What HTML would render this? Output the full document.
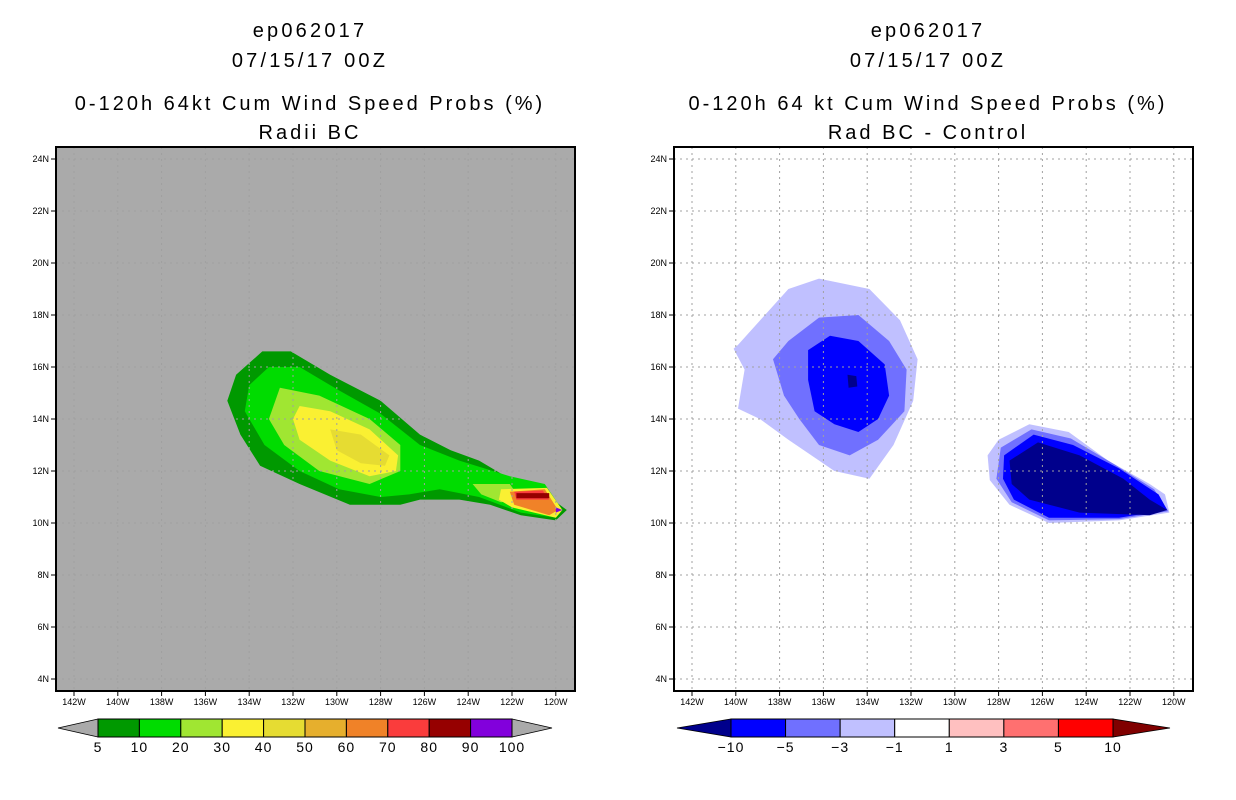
<!DOCTYPE html>
<html><head><meta charset="utf-8"><style>
body{margin:0;background:#fff;}
svg{display:block;font-family:"Liberation Sans",sans-serif;}
</style></head><body>
<svg id="c" width="1236" height="800"></svg>
<script>
const NS='http://www.w3.org/2000/svg';
const svg=document.getElementById('c');
const latTicks=[24,22,20,18,16,14,12,10,8,6,4];
const lonTicks=[142,140,138,136,134,132,130,128,126,124,122,120];
// left panel contours (lon W, lat N)
const lc5=[[133.4,16.6],[132.1,16.6],[130.3,15.7],[128.0,14.7],[126.2,13.4],[124.8,12.8],[123.5,12.4],[122.1,11.7],[120.3,11.0],[119.5,10.5],[120.0,10.1],[121.6,10.3],[123.0,10.7],[124.4,10.9],[126.2,10.9],[127.1,10.7],[129.4,10.7],[131.7,11.5],[133.5,12.2],[134.4,13.4],[135.0,14.7],[134.6,15.7]];
const lc10=[[133.1,16.0],[131.7,16.0],[129.9,15.1],[128.0,14.2],[126.2,13.0],[124.4,12.4],[122.1,11.8],[120.5,11.5],[119.7,10.5],[120.0,10.2],[121.6,10.4],[123.5,11.0],[125.3,11.3],[126.7,11.1],[128.0,11.0],[129.9,11.3],[131.7,12.0],[133.3,13.0],[134.2,14.3],[134.0,15.3]];
const lc20=[[132.6,15.2],[130.8,14.9],[128.5,14.0],[127.1,13.0],[127.1,12.0],[128.5,11.5],[130.8,12.0],[132.4,13.0],[133.1,14.0]];
const lc20b=[[123.8,11.5],[122.1,11.5],[121.6,10.9],[122.5,10.8],[123.4,11.1]];
const lc30=[[131.7,14.5],[130.3,14.3],[128.5,13.6],[127.2,12.6],[127.3,12.0],[128.5,11.8],[130.3,12.4],[131.7,13.2],[132.0,14.0]];
const lc40=[[130.3,13.6],[128.9,13.4],[127.6,12.6],[127.8,12.2],[128.9,12.3],[130.0,12.8]];
const lcTipY=[[122.5,11.3],[120.4,11.35],[119.7,10.5],[120.0,10.2],[122.0,10.6],[122.6,10.9]];
const lcTipO=[[122.1,11.2],[120.5,11.3],[119.9,10.5],[120.3,10.3],[121.9,10.7]];
const lcTipR=[[121.9,11.2],[120.6,11.25],[120.3,10.9],[121.8,10.9]];
const lcTipD=[[121.8,11.15],[120.3,11.15],[120.3,10.95],[121.8,10.95]];
const lcTipP=[[120.0,10.6],[119.7,10.5],[120.0,10.4]];
// right panel contours
const r1a=[[139.9,16.85],[137.6,19.0],[136.2,19.4],[133.9,19.0],[132.5,17.8],[131.7,16.3],[131.9,14.7],[132.8,13.0],[133.9,11.7],[135.5,12.0],[137.6,13.2],[138.9,14.0],[139.9,14.4],[139.6,15.9],[140.1,16.7]];
const r3a=[[137.6,17.0],[136.2,17.9],[134.4,18.0],[133.0,17.0],[132.2,15.9],[132.3,14.3],[133.5,13.2],[134.8,12.6],[136.2,13.0],[137.1,14.0],[137.8,14.9],[138.3,16.3]];
const r5a=[[136.7,16.65],[135.7,17.2],[134.4,17.0],[133.2,16.1],[133.0,14.9],[133.5,14.0],[134.4,13.5],[135.5,13.8],[136.4,14.3],[136.7,15.5]];
const r10a=[[134.9,15.7],[134.5,15.65],[134.45,15.25],[134.85,15.2]];
const r1b=[[128.0,13.2],[126.6,13.8],[124.8,13.5],[123.0,12.4],[121.1,11.5],[120.4,11.1],[120.2,10.4],[122.5,10.1],[125.7,10.0],[127.5,10.7],[128.4,11.65],[128.5,12.6]];
const r3b=[[127.9,12.9],[126.5,13.6],[124.7,13.25],[122.7,12.25],[120.9,11.3],[120.25,10.45],[122.5,10.15],[125.7,10.1],[127.4,10.8],[128.1,11.7]];
const r5b=[[127.75,12.6],[126.4,13.4],[124.6,13.0],[122.5,12.1],[120.7,11.1],[120.3,10.5],[122.5,10.2],[125.7,10.2],[127.3,10.9],[127.8,11.7]];
const r10b=[[127.5,12.4],[126.2,13.1],[124.3,12.6],[122.3,11.7],[121.1,10.9],[120.3,10.5],[121.1,10.3],[124.3,10.4],[126.6,10.9],[127.4,11.5]];
const leftLabels=['5','10','20','30','40','50','60','70','80','90','100'];
const leftColors=['#009900','#00dc00','#a0e632','#faf032','#e6dc32','#e6af2d','#f08228','#fa3c3c','#960000','#8200dc'];
const rightLabels=['\u221210','\u22125','\u22123','\u22121','1','3','5','10'];
const rightColors=['#0000ff','#7070ff','#c0c0ff','#ffffff','#ffc0c0','#ff7070','#ff0000'];

function mk(tag,attrs,parent){const e=document.createElementNS(NS,tag);for(const k in attrs)e.setAttribute(k,attrs[k]);(parent||svg).appendChild(e);return e;}
function txt(s,x,y,size,anchor,name,ls){const t=mk('text',{x:x,y:y,'font-size':size,'text-anchor':anchor||'middle',fill:'#000'});if(ls){t.setAttribute('letter-spacing',ls);}t.textContent=s;return t;}

function panel(x0,bg,title,sub,polys,name){
  const X=lon=>x0+18+(142-lon)*21.9;
  const Y=lat=>159+(24-lat)*26;
  const g=mk('g',{});
  
  
  const cx=x0+253;
  txt('ep062017',cx+1,37,20,'middle',name+'-storm-id',3.2);
  txt('07/15/17 00Z',cx+1,67,20,'middle',name+'-date',3.2);
  txt(title,cx+1,110,20,'middle',name+'-title',3.0);
  txt(sub,cx+1,139,20,'middle',name+'-subtitle',3.0);
  const bgr=mk('rect',{x:x0,y:147,width:519,height:544,fill:bg},g);
  
  
  polys.forEach(([pts,col,pn])=>{
    const p=mk('polygon',{points:pts.map(q=>X(q[0]).toFixed(1)+','+Y(q[1]).toFixed(1)).join(' '),fill:col},g);
    
    
  });
  latTicks.forEach(l=>{
    const gl=mk('line',{x1:x0,x2:x0+519,y1:Y(l),y2:Y(l),stroke:'#a0a0a0','stroke-dasharray':'2,4','stroke-width':1},g);
    
    
    mk('line',{x1:x0-5,x2:x0,y1:Y(l),y2:Y(l),stroke:'#000'},g);
    txt(l+'N',x0-7,Y(l)+3,9,'end','lat-tick-label');
  });
  lonTicks.forEach(l=>{
    const gl=mk('line',{x1:X(l),x2:X(l),y1:147,y2:691,stroke:'#a0a0a0','stroke-dasharray':'2,4','stroke-width':1},g);
    
    
    mk('line',{x1:X(l),x2:X(l),y1:691,y2:696,stroke:'#000'},g);
    txt(l+'W',X(l),705,9,'middle','lon-tick-label');
  });
  const fr=mk('rect',{x:x0,y:147,width:519,height:544,fill:'none',stroke:'#000','stroke-width':2},g);
  
  
}
panel(56,'#aaaaaa','0-120h 64kt Cum Wind Speed Probs (%)','Radii BC',[
 [lc5,'#009900','contour-5'],[lc10,'#00dc00','contour-10'],[lc20,'#a0e632','contour-20'],[lc20b,'#a0e632','contour-20-tip'],
 [lc30,'#faf032','contour-30'],[lc40,'#e6dc32','contour-40'],[lcTipY,'#faf032','contour-tip-30'],[lcTipO,'#f08228','contour-tip-60'],
 [lcTipR,'#fa3c3c','contour-tip-70'],[lcTipD,'#960000','contour-tip-80'],[lcTipP,'#8200dc','contour-tip-90']],'left-panel');
panel(674,'#ffffff','0-120h 64 kt Cum Wind Speed Probs (%)','Rad BC - Control',[
 [r1a,'#c0c0ff','diff-west-minus1'],[r3a,'#7070ff','diff-west-minus3'],[r5a,'#0000ff','diff-west-minus5'],[r10a,'#00008c','diff-west-minus10'],
 [r1b,'#c0c0ff','diff-east-minus1'],[r3b,'#7070ff','diff-east-minus3'],[r5b,'#0000ff','diff-east-minus5'],[r10b,'#00008c','diff-east-minus10']],'right-panel');

function colorbar(x0,x1,tl,tr,colors,labels,ltc,rtc,name){
  const g=mk('g',{});
  
  
  const y0=719,y1=737,ym=728;
  const a=mk('polygon',{points:`${tl},${ym} ${x0},${y0} ${x0},${y1}`,fill:ltc,stroke:'#000','stroke-width':0.8},g);
  
  const b=mk('polygon',{points:`${tr},${ym} ${x1},${y0} ${x1},${y1}`,fill:rtc,stroke:'#000','stroke-width':0.8},g);
  
  const w=(x1-x0)/colors.length;
  colors.forEach((c,i)=>{
    const r=mk('rect',{x:x0+i*w,y:y0,width:w,height:y1-y0,fill:c,stroke:'#000','stroke-width':1},g);
    
  });
  labels.forEach((s,i)=>txt(s,x0+i*w,752,14,'middle','colorbar-label',1));
}
colorbar(98,512,58,552,leftColors,leftLabels,'#aaaaaa','#aaaaaa','left-colorbar');
colorbar(731,1113,677,1170,rightColors,rightLabels,'#00008c','#800000','right-colorbar');
</script>
</body></html>
